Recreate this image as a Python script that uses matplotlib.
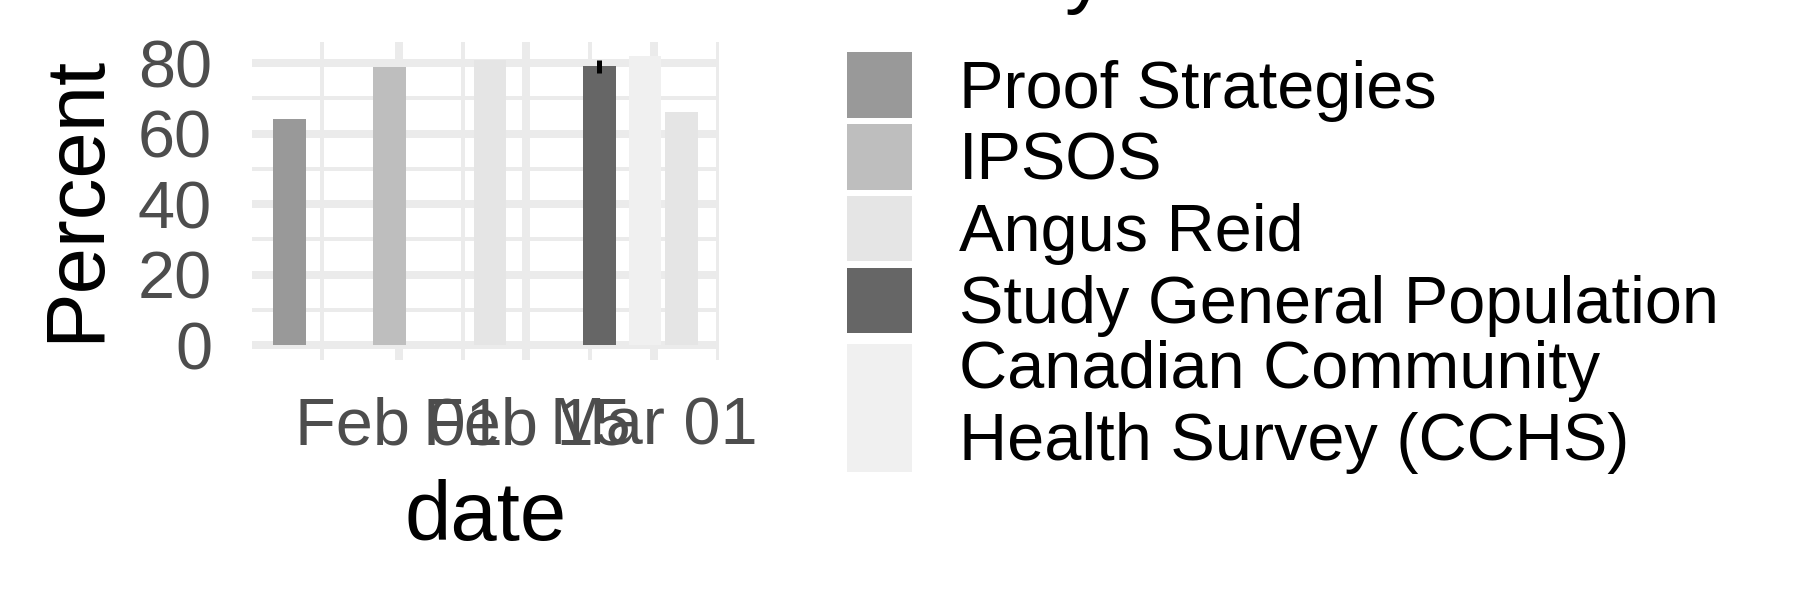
import numpy as np
import matplotlib
matplotlib.use("Agg")
import matplotlib.pyplot as plt
import matplotlib.dates as mdates
from matplotlib.patches import Patch, Rectangle
from matplotlib.legend_handler import HandlerPatch

plt.rcParams['font.family'] = ['Liberation Sans', 'DejaVu Sans']
plt.rcParams['lines.solid_capstyle'] = 'butt'

# survey results
dates = np.array(['2021-01-20', '2021-01-31', '2021-02-11',
                  '2021-02-23', '2021-02-28', '2021-03-04'], dtype='datetime64[D]')
percent = [64.0, 78.8, 80.9, 79.1, 82.0, 66.0]
survey = ['Proof Strategies', 'IPSOS', 'Angus Reid', 'Study General Population',
          'Canadian Community\nHealth Survey (CCHS)', 'Angus Reid']
err_survey = 'Study General Population'
err_half = 1.8

legend_order = ['Proof Strategies', 'IPSOS', 'Angus Reid', 'Study General Population',
                'Canadian Community\nHealth Survey (CCHS)']
fills = ['#999999', '#BEBEBE', '#E5E5E5', '#666666', '#F0F0F0']
fill_of = dict(zip(legend_order, fills))

xticks = np.array(['2021-02-01', '2021-02-15', '2021-03-01'], dtype='datetime64[D]')
xminor = np.array(['2021-01-23T12', '2021-02-08T00', '2021-02-22T00', '2021-03-08T00'],
                  dtype='datetime64[h]')
yticks = [0, 20, 40, 60, 80]
yminor = [10, 30, 50, 70]


# tall key for the two-line legend entry
class TallKey(HandlerPatch):
    def create_artists(self, legend, orig_handle, xdescent, ydescent, width, height, fontsize, trans):
        mid = height / 2 - ydescent
        tall = 1.92 * fontsize
        p = Rectangle((-xdescent, mid - tall / 2), width, tall,
                      facecolor=orig_handle.get_facecolor(), edgecolor='none')
        p.set_transform(trans)
        return [p]


fig = plt.figure(figsize=(6, 2), dpi=300)
ax = fig.add_axes([252 / 1800, (600 - 359.5) / 600, 467 / 1800, 318 / 600])

x = mdates.date2num(dates)
width = 0.9 * np.diff(np.sort(x)).min()
ax.bar(x, percent, width=width, color=[fill_of[s] for s in survey], linewidth=0, zorder=2)
i = survey.index(err_survey)
ax.errorbar(x[i], percent[i], yerr=err_half, fmt='none', ecolor='black',
            elinewidth=1.2, capsize=0, zorder=3)

lo, hi = x.min() - width / 2, x.max() + width / 2
ax.set_xlim(lo - 0.05 * (hi - lo), hi + 0.05 * (hi - lo))
top = max(percent)
ax.set_ylim(-0.05 * top, 1.05 * top)

ax.set_xticks(mdates.date2num(xticks))
ax.set_xticks(mdates.date2num(xminor), minor=True)
ax.xaxis.set_major_formatter(mdates.DateFormatter('%b %d'))
ax.set_yticks(yticks)
ax.set_yticks(yminor, minor=True)

ax.set_axisbelow(True)
ax.grid(which='major', color='#EBEBEB', lw=1.92)
ax.grid(which='minor', color='#EBEBEB', lw=0.96)
for s in ax.spines.values():
    s.set_visible(False)
ax.tick_params(which='both', length=0)
ax.tick_params(axis='x', pad=8.9, labelsize=16, labelcolor='#4D4D4D')
ax.tick_params(axis='y', pad=9.6, labelsize=16, labelcolor='#4D4D4D')

ax.set_xlabel('date', fontsize=20)
ax.xaxis.set_label_coords(0.5, -(479 - 359.5) / 318)
ax.set_ylabel('Percent', fontsize=20)
ax.yaxis.set_label_coords((115 - 252) / 467, 0.505)

handles = [Patch(facecolor=fill_of[s], edgecolor='none') for s in legend_order]
leg = ax.legend(handles, legend_order, handler_map={handles[-1]: TallKey()},
                loc='upper left', bbox_to_anchor=(847 / 1800, 1 - 52.3 / 600),
                bbox_transform=fig.transFigure, frameon=False, borderpad=0,
                borderaxespad=0, fontsize=16, handlelength=0.98, handleheight=1.13,
                handletextpad=0.70, labelspacing=0.04)

# legend title sits mostly above the canvas
fig.text(847 / 1800, 1 + 2 / 600, 'Survey', fontsize=20, ha='left', va='baseline')

fig.savefig('out.png', dpi=300, facecolor='white')
